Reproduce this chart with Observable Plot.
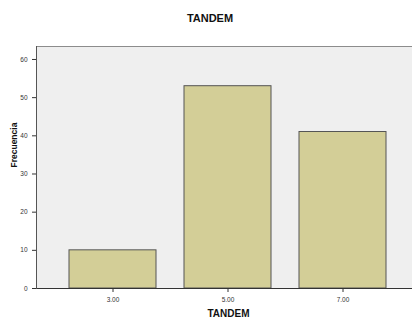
<!DOCTYPE html>
<html>
<head>
<meta charset="utf-8">
<script src="https://cdn.jsdelivr.net/npm/d3@7"></script>
<script src="https://cdn.jsdelivr.net/npm/@observablehq/plot@0.6"></script>
<style>
  html, body { margin: 0; padding: 0; background: #fff; overflow: hidden; }
  #wrap { width: 412px; height: 317px; overflow: hidden; position: relative; font-family: "Liberation Sans", Arial, sans-serif; }
  #title { position: absolute; left: 0; top: 0; width: 420px; height: 40px; text-align: center; font-weight: bold; font-size: 11px; line-height: 11px; padding-top: 13px; box-sizing: border-box; color: #111; }
  #chart { position: absolute; left: 0; top: 40px; width: 420px; }
  #chart svg { max-width: none !important; }
</style>
</head>
<body>
<div id="wrap">
  <div id="title">TANDEM</div>
  <div id="chart"></div>
</div>
<script>
const categories = ["3.00", "5.00", "7.00"];
const frequencies = [10, 53, 41];
const yTicks = [0, 10, 20, 30, 40, 50, 60];
const xLabel = "TANDEM";
const yLabel = "Frecuencia";

const data = categories.map((c, i) => ({cat: c, freq: frequencies[i]}));

const chart = Plot.plot({
  width: 420,
  height: 277,
  marginTop: 6,
  marginBottom: 29,
  marginLeft: 36,
  marginRight: 0,
  style: {fontFamily: "Liberation Sans, Arial, sans-serif", fontSize: "6.5px", color: "#333", background: "transparent"},
  x: {domain: categories, paddingInner: 0.243, paddingOuter: 0.291, tickSize: 4, label: null},
  y: {domain: [0, 63.4], ticks: yTicks, tickSize: 4, tickFormat: d => String(d), label: null},
  marks: [
    Plot.frame({fill: "#efefef", stroke: "none"}),
    Plot.frame({anchor: "top", stroke: "#8c8c8c"}),
    Plot.barY(data, {x: "cat", y: "freq", fill: "#d3ce97", stroke: "#555", strokeWidth: 1}),
    Plot.ruleY([0], {stroke: "#333"}),
    Plot.frame({anchor: "left", stroke: "#555"}),
    Plot.text([xLabel], {frameAnchor: "bottom", dy: 28, fontSize: 10, fontWeight: "bold", fill: "#111", text: d => d, lineAnchor: "bottom"}),
    Plot.text([yLabel], {frameAnchor: "left", dx: -22, rotate: -90, fontSize: 8.5, fontWeight: "bold", fill: "#111", text: d => d})
  ]
});
document.getElementById("chart").appendChild(chart);
</script>
</body>
</html>
